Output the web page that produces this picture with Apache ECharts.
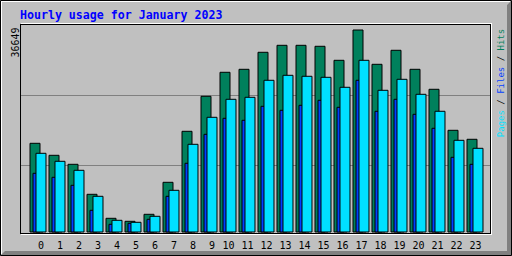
<!DOCTYPE html>
<html><head><meta charset="utf-8">
<script src="https://cdn.jsdelivr.net/npm/echarts@6/dist/echarts.min.js"></script>
<style>html,body{margin:0;padding:0;background:#c0c0c0}#c{width:512px;height:256px}</style>
</head><body><div id="c"></div><script>
const hours = ['0','1','2','3','4','5','6','7','8','9','10','11','12','13','14','15','16','17','18','19','20','21','22','23'];
const hits  = [16194,14028,12403,6987,2654,2112,3376,9153,18361,24680,29013,29554,32624,33887,33887,33707,31179,36649,30457,32985,29554,25944,18541,16917];
const files = [10778,10056,8612,4098,1571,1751,2473,6626,12584,17819,20708,20347,22874,22152,23055,23958,22694,27569,21972,24138,21430,18903,13667,12403];
const pages = [14389,12945,11320,6626,2293,1932,3015,7709,16014,20888,24138,24499,27569,28471,28291,28110,26305,31179,25763,27749,25041,21972,16736,15292];
const titleText = 'Hourly usage for January 2023';
const maxLabel = '36649';
const legendNames = ['Pages', 'Files', 'Hits'];

const C_HITS = '#00805c', C_FILES = '#0040ff', C_PAGES = '#00e0ff';
const maxVal = Math.max(...hits);
const mono = '"DejaVu Sans Mono", monospace';

const chart = echarts.init(document.getElementById('c'), null, {renderer: 'svg'});
function hline(x1, x2, y, color) {
  return {type: 'line', z: 100, silent: true, shape: {x1: x1, y1: y, x2: x2, y2: y}, style: {stroke: color, lineWidth: 1}};
}
function vline(x, y1, y2, color) {
  return {type: 'line', z: 100, silent: true, shape: {x1: x, y1: y1, x2: x, y2: y2}, style: {stroke: color, lineWidth: 1}};
}
const barBase = {type: 'bar', xAxisIndex: 0, yAxisIndex: 0, barWidth: 11, barGap: '-72.73%', animation: false};
chart.setOption({
  animation: false,
  backgroundColor: '#c0c0c0',
  grid: [
    {left: 28.5, right: 27.5, top: 29.5, bottom: 23.5},
    {left: 21, right: 21, top: 25, bottom: 21}
  ],
  xAxis: [
    {type: 'category', gridIndex: 0, data: hours, boundaryGap: true,
     axisLine: {show: false}, axisTick: {show: false}, splitLine: {show: false},
     axisLabel: {margin: 8, color: '#000', fontFamily: mono, fontSize: 10, interval: 0,
       formatter: function (v) { return v.length < 2 ? '{s|' + v + '}' : '{d|' + v + '}'; },
       rich: {s: {padding: [0, 0, 0, 6], fontFamily: mono, fontSize: 10, color: '#000'},
              d: {padding: [0, 0, 0, 1], fontFamily: mono, fontSize: 10, color: '#000'}}}},
    {type: 'value', gridIndex: 1, show: false, min: 0, max: 1}
  ],
  yAxis: [
    {type: 'value', gridIndex: 0, min: 0, max: maxVal, show: false, splitLine: {show: false}},
    {type: 'value', gridIndex: 1, min: 0, max: 3, interval: 1,
     axisLine: {show: false}, axisTick: {show: false}, axisLabel: {show: false},
     splitLine: {show: true, showMinLine: false, showMaxLine: false, lineStyle: {color: '#808080', width: 1}}}
  ],
  series: [
    Object.assign({}, barBase, {name: 'Hits', data: hits, itemStyle: {color: C_HITS, borderColor: '#000', borderWidth: 1}}),
    Object.assign({}, barBase, {name: 'Files', data: files, itemStyle: {color: C_FILES, borderColor: '#000', borderWidth: 1}}),
    Object.assign({}, barBase, {name: 'Pages', data: pages, itemStyle: {color: C_PAGES, borderColor: '#000', borderWidth: 1}})
  ],
  graphic: [
    // outer bevel
    {type: 'polygon', z: 99, silent: true, shape: {points: [[1, 255], [511, 255], [511, 1], [507, 5], [507, 251], [5, 251]]}, style: {fill: '#808080'}},
    hline(1, 510, 1.5, '#ffffff'),
    vline(1.5, 1, 254, '#ffffff'),
    {type: 'rect', z: 100, silent: true, shape: {x: 0.5, y: 0.5, width: 511, height: 255}, style: {fill: null, stroke: '#000', lineWidth: 1}},
    // plot frame
    hline(21, 492, 23.5, '#ffffff'),
    vline(491.5, 23, 235, '#ffffff'),
    hline(21, 492, 234.5, '#ffffff'),
    hline(20, 491, 24.5, '#000'),
    vline(20.5, 24, 234, '#000'),
    vline(490.5, 24, 234, '#000'),
    hline(20, 491, 233.5, '#000'),
    // title
    {type: 'text', z: 101, x: 20, y: 15, style: {text: titleText, font: 'bold 11.6px ' + mono, fill: '#0000ff', align: 'left', verticalAlign: 'middle'}},
    // max label
    {type: 'text', z: 101, x: 15, y: 42.5, rotation: Math.PI / 2, style: {text: maxLabel, font: '10px ' + mono, fill: '#000', align: 'center', verticalAlign: 'middle'}},
    // legend
    {type: 'text', z: 101, x: 500.5, y: 83, rotation: Math.PI / 2,
     style: {text: '{p|' + legendNames[0] + '}{k| / }{f|' + legendNames[1] + '}{k| / }{h|' + legendNames[2] + '}',
             font: '9px ' + mono, align: 'center', verticalAlign: 'middle',
             rich: {p: {fill: C_PAGES, font: '9px ' + mono}, f: {fill: C_FILES, font: '9px ' + mono},
                    h: {fill: C_HITS, font: '9px ' + mono}, k: {fill: '#000', font: '9px ' + mono}}}}
  ]
});
</script></body></html>
